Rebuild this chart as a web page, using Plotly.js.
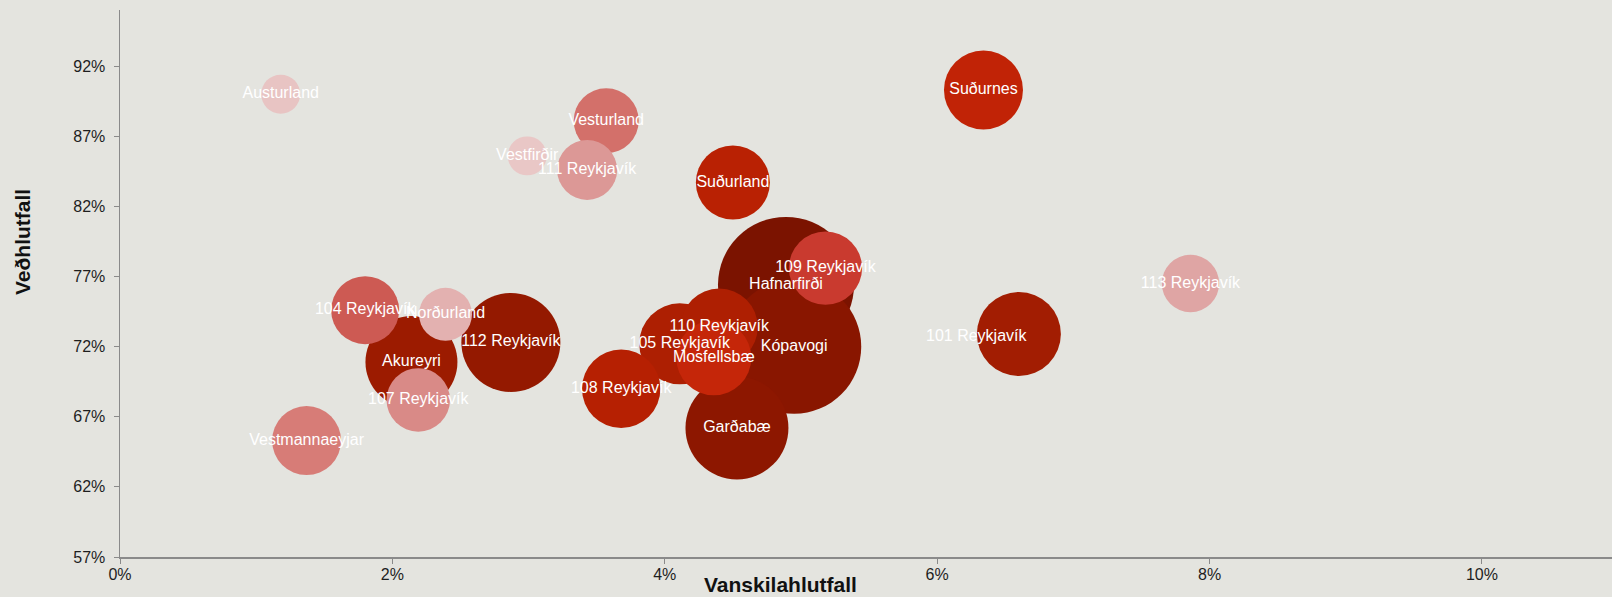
<!DOCTYPE html>
<html>
<head>
<meta charset="utf-8">
<script src="https://cdn.plot.ly/plotly-3.0.1.min.js"></script>
<style>
  html, body { margin: 0; padding: 0; background: #e4e4df; }
  #chart { width: 1612px; height: 597px; }
</style>
</head>
<body>
<div id="chart"></div>
<script>
// Data (ordered largest bubble first so smaller ones draw on top)
const svaedi = [
  "Hafnarfirði", "Kópavogi", "Garðabæ", "112 Reykjavík", "Akureyri",
  "101 Reykjavík", "105 Reykjavík", "Suðurnes", "108 Reykjavík", "110 Reykjavík",
  "Mosfellsbæ", "Suðurland", "109 Reykjavík", "Vestmannaeyjar", "104 Reykjavík",
  "Vesturland", "107 Reykjavík", "111 Reykjavík", "113 Reykjavík", "Norðurland",
  "Austurland", "Vestfirðir"
];
// Vanskilahlutfall (%)
const vanskilahlutfall = [
  4.89, 4.95, 4.53, 2.87, 2.14,
  6.60, 4.11, 6.34, 3.68, 4.40,
  4.36, 4.50, 5.18, 1.37, 1.80,
  3.57, 2.19, 3.43, 7.86, 2.39,
  1.18, 2.99
];
// Veðhlutfall (%)
const vedhlutfall = [
  76.4, 72.0, 66.2, 72.3, 70.9,
  72.9, 72.2, 90.3, 69.0, 73.4,
  71.2, 83.7, 77.6, 65.3, 74.6,
  88.1, 68.2, 84.6, 76.5, 74.3,
  90.0, 85.6
];
// Bubble size value
const staerd = [
  185, 180, 106, 98, 84.6,
  70.6, 65.6, 62.4, 61.6, 59.3,
  56.3, 54.8, 53.7, 47.6, 46.2,
  42.3, 40.3, 36.0, 32.8, 28.1,
  15.2, 15.2
];
const litir = [
  "#7b1300", "#891600", "#8d1700", "#941900", "#9c1b00",
  "#a21d02", "#ad1f02", "#c12306", "#b62002", "#ae1f02",
  "#c52609", "#b92103", "#c93a2f", "#d77c77", "#cd5a53",
  "#d3706a", "#d98a87", "#dc9896", "#dfa5a4", "#e3b1b0",
  "#e8c4c3", "#e9c7c6"
];
const xTitill = "Vanskilahlutfall";
const yTitill = "Veðhlutfall";

// label for 101 Reykjavík is placed to the left of its bubble
const offsetLabel = "101 Reykjavík";
const offsetIdx = svaedi.indexOf(offsetLabel);
const textLabels = svaedi.map((s, i) => i === offsetIdx ? "" : s);

const trace = {
  type: "scatter",
  mode: "markers+text",
  x: vanskilahlutfall,
  y: vedhlutfall,
  text: textLabels,
  textposition: "middle center",
  textfont: { family: "Liberation Sans, Arial, sans-serif", size: 16, color: "#ffffff" },
  marker: {
    size: staerd,
    sizemode: "area",
    sizeref: 0.02,
    color: litir,
    opacity: 1,
    line: { width: 0 }
  },
  hoverinfo: "skip",
  cliponaxis: false,
  showlegend: false
};

const axisFont = { family: "Liberation Sans, Arial, sans-serif", size: 16, color: "#1e1e1e" };

const layout = {
  width: 1612,
  height: 597,
  margin: { l: 120, r: 0, t: 10, b: 40 },
  paper_bgcolor: "#e4e4df",
  plot_bgcolor: "#e4e4df",
  showlegend: false,
  xaxis: {
    range: [0, 10.955],
    tick0: 0,
    dtick: 2,
    ticksuffix: "%",
    showgrid: false,
    zeroline: false,
    showline: true,
    linecolor: "#8a8a8a",
    linewidth: 1.5,
    ticks: "outside",
    ticklen: 5,
    tickwidth: 1,
    tickcolor: "#8a8a8a",
    tickfont: axisFont,
    ticklabelstandoff: -3,
    fixedrange: true
  },
  yaxis: {
    range: [57, 96],
    tick0: 57,
    dtick: 5,
    ticksuffix: "%",
    showgrid: false,
    zeroline: false,
    showline: true,
    linecolor: "#8a8a8a",
    linewidth: 1.5,
    ticks: "outside",
    ticklen: 5,
    tickwidth: 1,
    tickcolor: "#8a8a8a",
    tickfont: axisFont,
    ticklabelstandoff: 5,
    fixedrange: true
  },
  annotations: [
    {
      x: vanskilahlutfall[offsetIdx], y: vedhlutfall[offsetIdx],
      xref: "x", yref: "y",
      text: offsetLabel, showarrow: false,
      xshift: -42, yshift: -2,
      font: { family: "Liberation Sans, Arial, sans-serif", size: 16, color: "#ffffff" }
    },
    {
      x: 780, y: 584, xref: "paper", yref: "paper",
      text: "<b>" + xTitill + "</b>", showarrow: false,
      font: { family: "Liberation Sans, Arial, sans-serif", size: 21, color: "#111111" }
    },
    {
      x: 23, y: 242, xref: "paper", yref: "paper",
      text: "<b>" + yTitill + "</b>", showarrow: false, textangle: -90,
      font: { family: "Liberation Sans, Arial, sans-serif", size: 21, color: "#111111" }
    }
  ]
};

// convert pixel-placed titles to paper coordinates
const plotW = layout.width - layout.margin.l - layout.margin.r;
const plotH = layout.height - layout.margin.t - layout.margin.b;
layout.annotations.slice(1).forEach(a => {
  a.x = (a.x - layout.margin.l) / plotW;
  a.y = (layout.height - layout.margin.b - a.y) / plotH;
  a.xanchor = "center";
  a.yanchor = "middle";
});

Plotly.newPlot("chart", [trace], layout, { displayModeBar: false, staticPlot: true });
</script>
</body>
</html>
